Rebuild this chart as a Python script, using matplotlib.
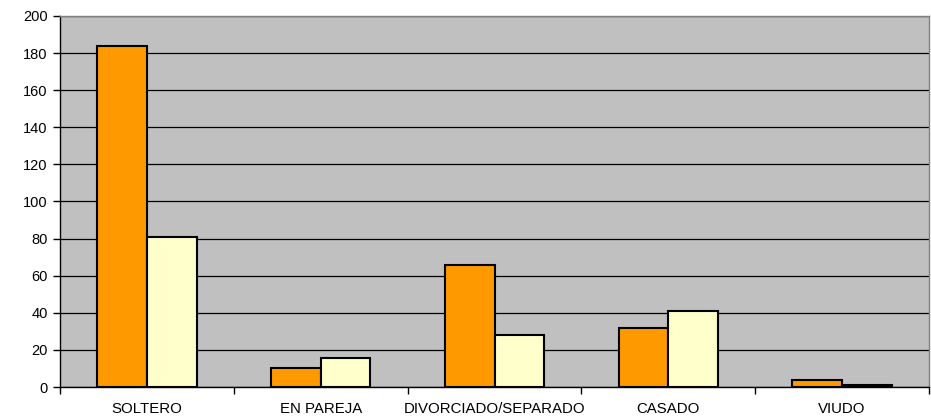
import matplotlib
matplotlib.use("Agg")
import matplotlib.pyplot as plt
import numpy as np

categories = ["SOLTERO", "EN PAREJA", "DIVORCIADO/SEPARADO", "CASADO", "VIUDO"]
series_a = [184, 10, 66, 32, 4]
series_b = [81, 15.5, 28, 41, 1]
yticks = [0, 20, 40, 60, 80, 100, 120, 140, 160, 180, 200]

plt.rcParams['font.family'] = ['Liberation Sans', 'DejaVu Sans']

fig = plt.figure(figsize=(9.31, 4.19), dpi=100)
ax = fig.add_axes([60/931, 32/419, 869/931, 371/419])
ax.set_facecolor('#c0c0c0')

x = np.arange(len(categories))
w = 1 / 3.5
ax.bar(x - w/2, series_a, width=w, color='#ff9900', edgecolor='black', linewidth=1.5, zorder=3)
ax.bar(x + w/2, series_b, width=w, color='#ffffcc', edgecolor='black', linewidth=1.5, zorder=3)

ax.set_xlim(-0.5, len(categories) - 0.5)
ax.set_ylim(0, 200)
ax.set_yticks(yticks)
ax.set_yticklabels([str(v) for v in yticks], fontsize=10.5)
ax.yaxis.grid(True, color='black', linewidth=0.9, zorder=1)
ax.set_axisbelow(True)

ax.set_xticks(x)
ax.set_xticklabels(categories, fontsize=10.8)
ax.tick_params(axis='x', length=0, pad=11)
ax.set_xticks(np.arange(len(categories) + 1) - 0.5, minor=True)
ax.tick_params(axis='x', which='minor', length=5, width=1, color='black', direction='out')
ax.tick_params(axis='y', length=5, width=1, direction='out', pad=4)

for s in ['top', 'right']:
    ax.spines[s].set_color('#808080')
    ax.spines[s].set_linewidth(1)
for s in ['left', 'bottom']:
    ax.spines[s].set_color('black')
    ax.spines[s].set_linewidth(1)

fig.savefig('out.png', dpi=100, facecolor='white')
